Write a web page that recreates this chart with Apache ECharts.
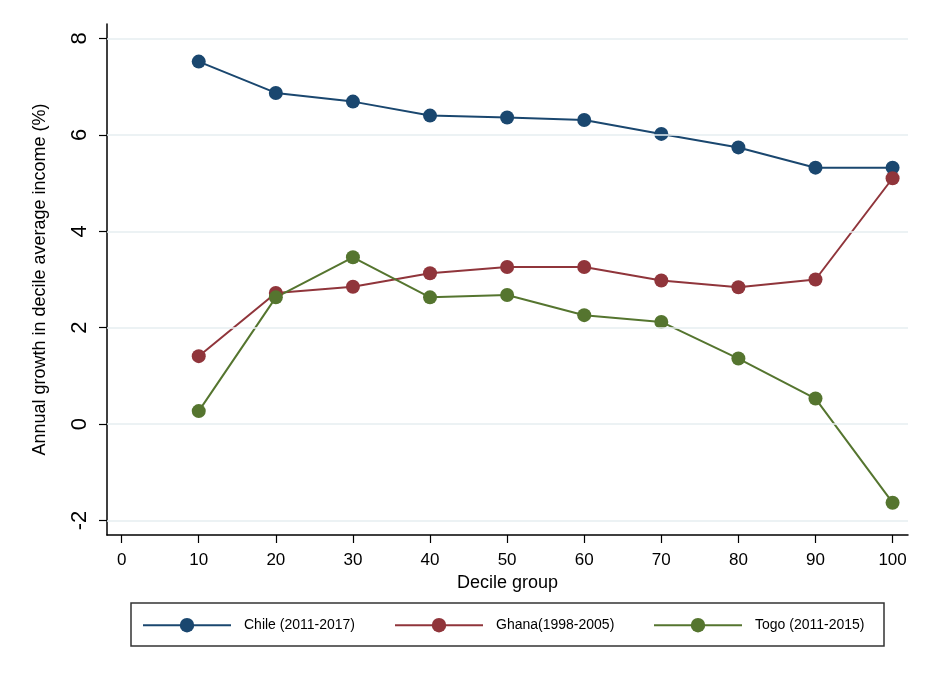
<!DOCTYPE html>
<html>
<head>
<meta charset="utf-8">
<script src="https://cdn.jsdelivr.net/npm/echarts@6/dist/echarts.min.js"></script>
<style>
html,body{margin:0;padding:0;background:#fff;}
#main{width:933px;height:679px;}
</style>
</head>
<body>
<div id="main"></div>
<script>
const deciles = [10, 20, 30, 40, 50, 60, 70, 80, 90, 100];
const chile = [7.52, 6.87, 6.69, 6.40, 6.36, 6.31, 6.02, 5.74, 5.32, 5.32];
const ghana = [1.41, 2.72, 2.85, 3.13, 3.26, 3.26, 2.98, 2.84, 3.00, 5.10];
const togo = [0.27, 2.63, 3.46, 2.63, 2.68, 2.26, 2.12, 1.36, 0.53, -1.63];
const xTicks = [0, 10, 20, 30, 40, 50, 60, 70, 80, 90, 100];
const yTicks = [-2, 0, 2, 4, 6, 8];
const seriesNames = ['Chile (2011-2017)', 'Ghana(1998-2005)', 'Togo (2011-2015)'];
const colors = ['#1a476f', '#90353b', '#55752f'];

const chart = echarts.init(document.getElementById('main'), null, {renderer: 'canvas'});
const font = 'Liberation Sans, Arial, sans-serif';
const pair = (ys) => deciles.map((d, i) => [d, ys[i]]);
const allData = [chile, ghana, togo];

const mkSeries = (i) => ({
  name: seriesNames[i],
  type: 'line',
  data: pair(allData[i]),
  symbol: 'circle',
  symbolSize: 14,
  showAllSymbol: true,
  color: colors[i],
  lineStyle: {width: 2, color: colors[i]},
  itemStyle: {color: colors[i]},
  emphasis: {disabled: true},
  animation: false,
  z: 3
});

const legendBase = (i, left) => ({
  data: [seriesNames[i]],
  left: left,
  top: 618,
  itemWidth: 88,
  itemHeight: 18,
  itemGap: 0,
  padding: 0,
  textStyle: {fontFamily: font, fontSize: 14, color: '#000', padding: [0, 0, 0, 8]},
  selectedMode: false
});

const series = [mkSeries(0), mkSeries(1), mkSeries(2)];
// gridlines at y tick values
series.push({
  type: 'line', data: [], silent: true,
  markLine: {
    silent: true, symbol: 'none', animation: false,
    label: {show: false},
    lineStyle: {color: '#e6eef0', width: 1.5, type: 'solid'},
    data: yTicks.map(v => ({yAxis: v}))
  },
  z: 1
});

chart.setOption({
  backgroundColor: '#ffffff',
  animation: false,
  grid: {left: 107, right: 25, top: 24, bottom: 144, containLabel: false},
  xAxis: {
    type: 'value', min: -1.9, max: 102,
    name: 'Decile group', nameLocation: 'middle', nameGap: 33,
    nameTextStyle: {fontFamily: font, fontSize: 18, color: '#000'},
    axisLine: {show: true, onZero: false, lineStyle: {color: '#000', width: 1.5}},
    axisTick: {show: true, length: 8, lineStyle: {color: '#000', width: 1.2}, customValues: xTicks},
    axisLabel: {fontFamily: font, fontSize: 17, color: '#000', margin: 17, customValues: xTicks},
    splitLine: {show: false}
  },
  yAxis: {
    type: 'value', min: -2.3, max: 8.3,
    name: 'Annual growth in decile average income (%)', nameLocation: 'middle', nameGap: 58,
    nameTextStyle: {fontFamily: font, fontSize: 18, color: '#000'},
    axisLine: {show: true, onZero: false, lineStyle: {color: '#000', width: 1.5}},
    axisTick: {show: true, length: 8, lineStyle: {color: '#000', width: 1.2}, customValues: yTicks},
    axisLabel: {fontFamily: font, fontSize: 22, color: '#000', margin: 16, rotate: 90, customValues: yTicks},
    splitLine: {show: false}
  },
  legend: [legendBase(0, 142), legendBase(1, 394), legendBase(2, 653)],
  graphic: [{
    type: 'rect', shape: {x: 131, y: 603, width: 753, height: 43},
    style: {fill: 'none', stroke: '#333', lineWidth: 1.5}, silent: true
  }],
  series: series
});
</script>
</body>
</html>
